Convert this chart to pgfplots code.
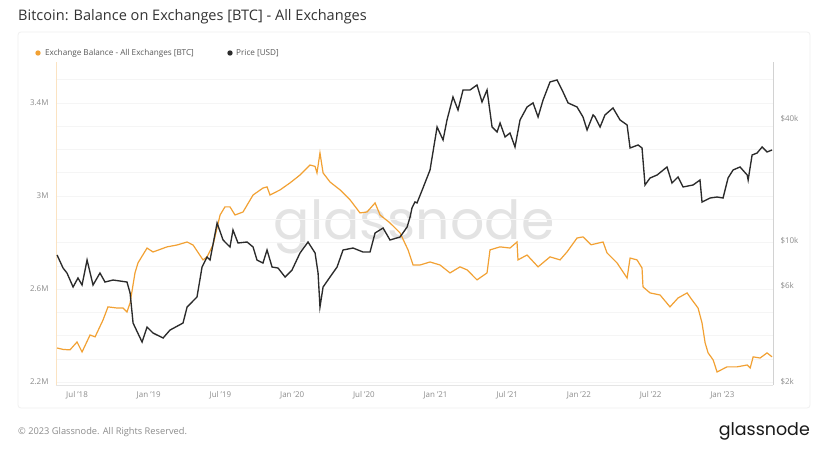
\documentclass[border=0pt]{standalone}
\usepackage{fontspec}
\setmainfont{Open Sans}
\newfontfamily\logofont{Poppins}
\usepackage{pgfplots}
\pgfplotsset{compat=1.18}
\definecolor{btcorange}{HTML}{F2A133}
\definecolor{pricegray}{HTML}{2B2B2B}
\definecolor{labelgray}{HTML}{8C8C8C}
\definecolor{titlegray}{HTML}{333333}

% x = months since Jan 2018 (6 = Jul '18, 60 = Jan '23)
\pgfplotstableread{
m v
4.33 2.346
4.83 2.340
5.41 2.338
6.00 2.372
6.42 2.329
7.09 2.402
7.51 2.394
8.18 2.467
8.59 2.523
9.35 2.518
9.85 2.518
10.18 2.501
10.44 2.540
10.85 2.669
11.10 2.712
11.86 2.776
12.36 2.759
13.53 2.781
14.37 2.789
15.21 2.802
15.71 2.789
16.54 2.725
16.88 2.738
17.38 2.789
17.97 2.918
18.38 2.953
18.80 2.953
19.22 2.918
19.89 2.931
20.73 3.004
21.56 3.034
21.90 3.039
22.15 3.004
22.99 3.026
23.82 3.056
24.66 3.090
25.50 3.133
25.92 3.127
26.08 3.099
26.33 3.185
26.59 3.099
27.17 3.060
28.01 3.026
28.85 2.983
29.68 2.927
30.27 2.931
30.94 2.970
31.36 2.918
32.19 2.884
33.03 2.841
33.70 2.768
34.12 2.703
34.70 2.703
35.54 2.716
36.38 2.703
37.21 2.669
38.05 2.695
38.64 2.682
39.47 2.639
40.31 2.669
40.56 2.768
41.40 2.781
42.23 2.776
42.82 2.802
42.90 2.725
43.66 2.746
44.58 2.695
45.58 2.738
46.42 2.725
47.00 2.759
47.84 2.819
48.34 2.824
49.02 2.790
50.02 2.802
50.35 2.755
51.19 2.712
52.03 2.647
52.28 2.733
52.86 2.725
53.28 2.690
53.36 2.609
53.95 2.583
54.79 2.574
55.62 2.523
56.29 2.561
57.05 2.583
57.46 2.553
57.97 2.518
58.30 2.454
58.56 2.368
58.81 2.325
59.23 2.295
59.56 2.243
60.39 2.265
61.23 2.265
62.08 2.273
62.33 2.260
62.58 2.308
63.16 2.303
63.74 2.325
64.16 2.308
}\balance

\pgfplotstableread{
m p
4.33 8470
4.83 7306
5.16 6902
5.67 5888
6.08 6523
6.42 6023
6.84 8000
7.34 6023
7.92 6902
8.34 6232
9.01 6375
10.18 6232
10.44 5499
10.69 3911
11.44 3152
11.86 3736
12.36 3491
13.20 3298
13.78 3610
14.87 3911
15.21 4692
16.04 5256
16.46 7389
16.88 8280
17.13 8000
17.72 12186
18.22 10044
18.80 9277
19.05 11254
19.47 9710
20.23 9818
20.73 9277
21.06 8000
21.56 7734
21.90 8966
22.32 7389
22.82 7306
23.41 6596
23.99 7141
24.66 8666
25.33 9818
25.92 8666
26.17 6902
26.33 4692
26.59 5888
27.17 6596
27.76 7389
28.26 8966
29.10 9170
29.93 8764
30.52 8764
30.94 10876
31.61 11512
32.19 10044
33.03 10392
33.62 11642
33.87 13046
34.03 14450
34.28 15472
34.45 15296
34.95 18140
35.54 22258
36.13 36278
36.63 31300
36.96 39292
37.46 51007
37.88 44000
38.30 55252
38.89 55252
39.47 58474
39.89 48197
40.31 55252
40.73 36278
41.15 34278
41.40 37962
41.82 32389
42.23 33888
42.65 28905
43.07 39292
43.66 45540
44.16 47689
44.58 40644
45.00 49322
45.58 60518
46.17 61906
46.59 55252
47.09 47689
47.84 45540
48.34 40644
48.68 35066
49.18 41588
49.35 40644
49.77 36278
50.18 41588
50.85 45028
51.44 39292
52.03 37120
52.28 28577
52.95 29566
53.28 28577
53.53 18768
53.95 20320
54.54 21020
55.37 23030
55.79 19196
56.29 20553
56.71 18348
57.55 18768
58.13 19862
58.30 15472
58.97 16186
59.56 16372
60.06 16186
60.48 20320
60.90 22258
61.48 23030
62.08 21020
62.16 19862
62.49 26387
62.91 26998
63.33 28905
63.74 27307
64.16 27940
}\price

\begin{document}
\begin{tikzpicture}
\fill[white] (0,0) rectangle (828bp,465bp);
\draw[gray!12, line width=0.8bp, rounded corners=3bp] (18bp,57bp) rectangle (810bp,433bp);

% title, legend, footer
\node[anchor=base west, inner sep=0, text=titlegray, font=\fontsize{14.6}{17}\selectfont] at (18bp,444bp)
  {Bitcoin: Balance on Exchanges [BTC] - All Exchanges};
\fill[btcorange] (38bp,412bp) circle (2.7bp);
\node[anchor=west, inner sep=0, text=black!65, font=\fontsize{8.2}{9}\selectfont] at (45bp,412bp)
  {Exchange Balance - All Exchanges [BTC]};
\fill[pricegray] (230bp,412bp) circle (2.7bp);
\node[anchor=west, inner sep=0, text=black!65, font=\fontsize{8.2}{9}\selectfont] at (236bp,412bp)
  {Price [USD]};
\node[anchor=base west, inner sep=0, text=labelgray, font=\fontsize{9.3}{11}\selectfont] at (18bp,31bp)
  {\textcopyright{} 2023 Glassnode. All Rights Reserved.};
\node[anchor=base east, inner sep=0, text=black!90, font=\logofont\fontsize{17.5}{20}\selectfont] at (810bp,30bp)
  {glassnode};
% watermark
\node[anchor=base, inner sep=0, text=black!11, font=\logofont\fontsize{54}{60}\selectfont] at (414bp,225bp)
  {glassnode};

\begin{axis}[
  at={(56bp,80bp)}, anchor=south west,
  scale only axis, width=717bp, height=323bp,
  xmin=4.24, xmax=64.24, ymin=2.187, ymax=3.576,
  axis x line*=bottom, axis y line*=left,
  x axis line style={-, draw=gray!20},
  y axis line style={-, draw=btcorange!30},
  xtick={6,12,...,60},
  xticklabels={Jul '18, Jan '19, Jul '19, Jan '20, Jul '20, Jan '21, Jul '21, Jan '22, Jul '22, Jan '23},
  ytick={2.2,2.6,3.0,3.4},
  yticklabels={2.2M, 2.6M, 3M, 3.4M},
  minor ytick={2.3,2.4,2.5,2.7,2.8,2.9,3.1,3.2,3.3,3.5},
  ymajorgrids, yminorgrids,
  major grid style={draw=gray!8}, minor grid style={draw=gray!8},
  major tick length=0pt, minor tick length=0pt,
  ticklabel style={font=\fontsize{8}{9}\selectfont, text=labelgray},
  yticklabel style={xshift=-4bp},
  xticklabel style={yshift=-3bp},
]
\addplot[btcorange, line width=1.2bp] table[x=m, y=v] {\balance};
\end{axis}

\begin{axis}[
  at={(56bp,80bp)}, anchor=south west,
  scale only axis, width=717bp, height=323bp,
  xmin=4.24, xmax=64.24, ymode=log, ymin=1934, ymax=75940,
  axis x line=none, axis y line*=right,
  y axis line style={-, draw=gray!35},
  ytick={2000,6000,10000,40000},
  yticklabels={\$2k, \$6k, \$10k, \$40k},
  major tick length=0pt, minor tick length=0pt,
  ticklabel style={font=\fontsize{8}{9}\selectfont, text=labelgray},
  yticklabel style={xshift=4bp},
]
\addplot[pricegray, line width=1.35bp] table[x=m, y=p] {\price};
\end{axis}
\end{tikzpicture}
\end{document}
